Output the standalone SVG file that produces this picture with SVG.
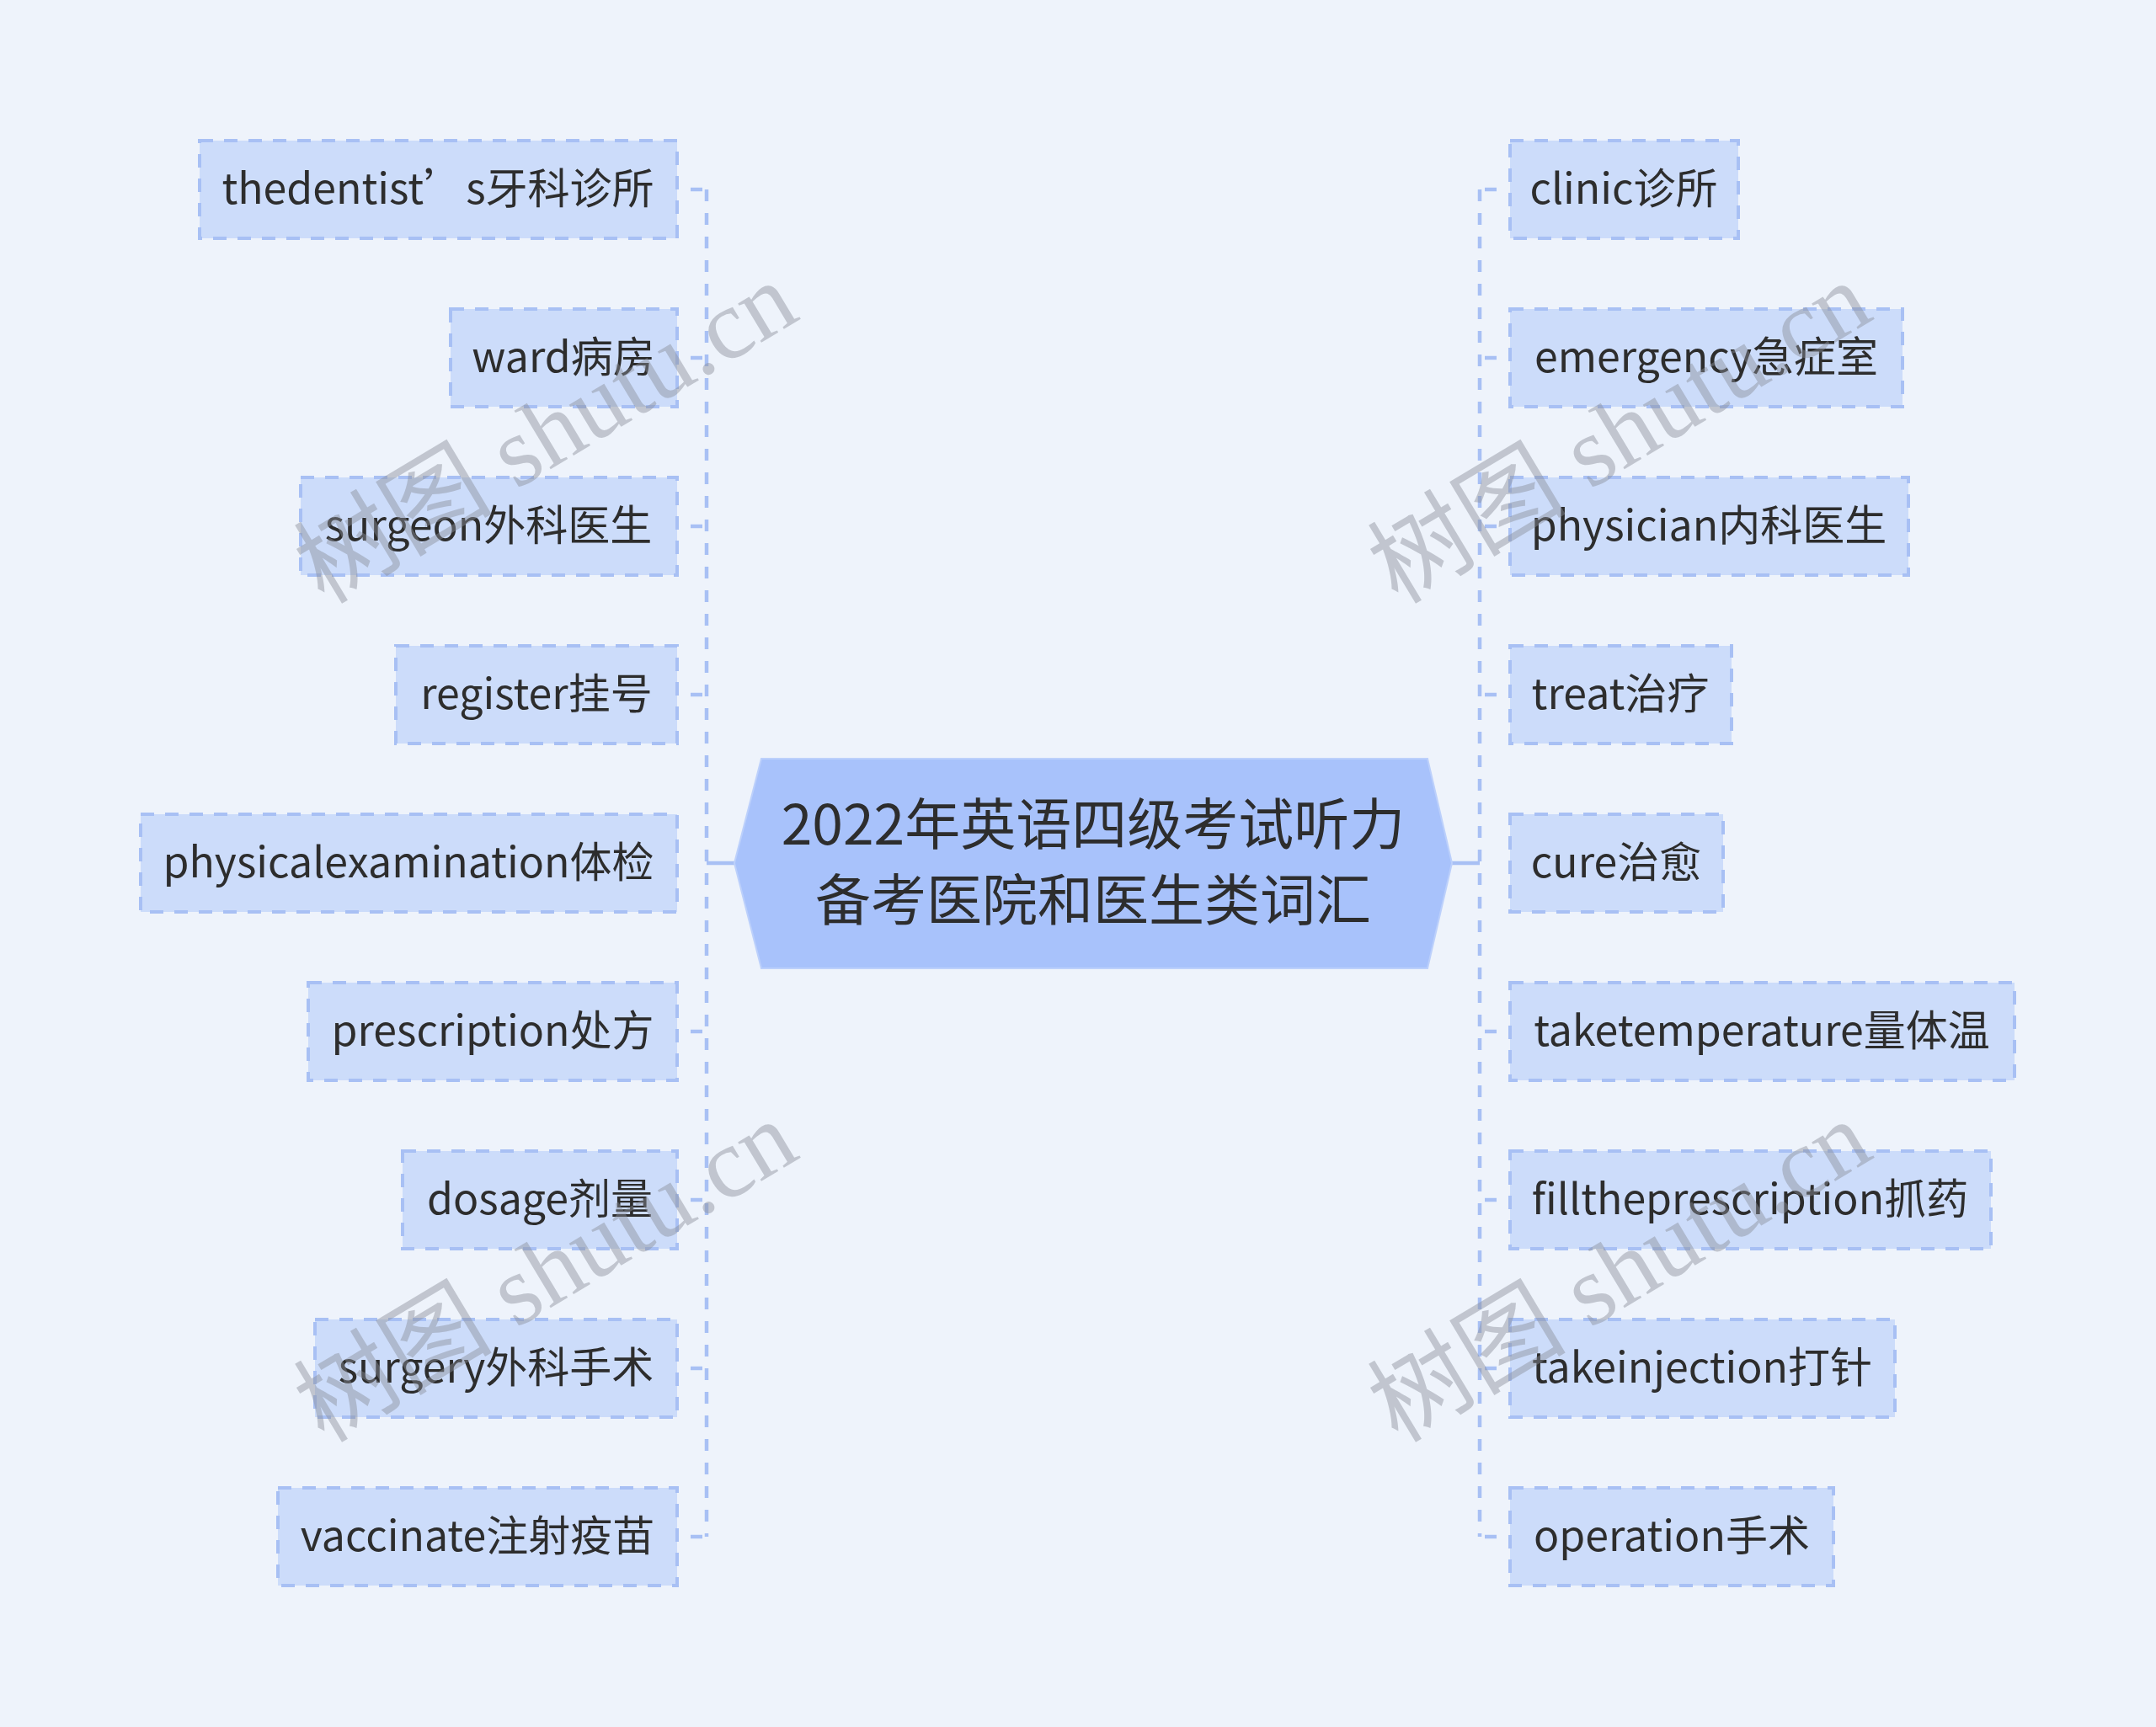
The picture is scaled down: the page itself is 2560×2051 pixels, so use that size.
<svg xmlns="http://www.w3.org/2000/svg" width="2560" height="2051" viewBox="0 0 2560 2051">
<style>
.bg{fill:#eef3fb}
.box{fill:#ccdcfa;stroke:#a8c0f4;stroke-width:4;stroke-dasharray:16 13}
.t{font-family:"Noto Sans CJK SC","Noto Sans",sans-serif;font-size:50px;fill:#2d2d2d;text-anchor:middle}
.ct{font-family:"Noto Sans CJK SC","Noto Sans",sans-serif;font-size:66px;fill:#2d2d2d;text-anchor:middle}
.solid{fill:none;stroke:#a8c0f4;stroke-width:4.5}
.dash{fill:none;stroke:#a8c0f4;stroke-width:4.5;stroke-dasharray:14 14}
.stub{fill:none;stroke:#a8c0f4;stroke-width:4.5;stroke-dasharray:14 14;stroke-dashoffset:14}
.wm{font-family:"Liberation Serif","Noto Sans CJK SC",serif;font-size:118px;fill:#8a8f99;fill-opacity:0.45;text-anchor:middle}
</style>
<rect class="bg" x="0" y="0" width="2560" height="2051"/>
<g id="connectors">
<path class="solid" d="M872 1025H839"/>
<path class="solid" d="M1724 1025H1757"/>
<path class="dash" d="M839 225V1825"/>
<path class="dash" d="M1757 225V1825"/>
<path class="stub" d="M806 225H839"/>
<path class="stub" d="M806 425H839"/>
<path class="stub" d="M806 625H839"/>
<path class="stub" d="M806 825H839"/>
<path class="stub" d="M806 1225H839"/>
<path class="stub" d="M806 1425H839"/>
<path class="stub" d="M806 1625H839"/>
<path class="stub" d="M806 1825H839"/>
<path class="stub" d="M1791 225H1757"/>
<path class="stub" d="M1791 425H1757"/>
<path class="stub" d="M1791 625H1757"/>
<path class="stub" d="M1791 825H1757"/>
<path class="stub" d="M1791 1225H1757"/>
<path class="stub" d="M1791 1425H1757"/>
<path class="stub" d="M1791 1625H1757"/>
<path class="stub" d="M1791 1825H1757"/>
</g>
<g id="center">
<polygon points="872,1025 904,901 1695,901 1724,1025 1695,1150 904,1150" fill="#a8c2fb" stroke="#bcd0fb" stroke-width="2"/>
<text class="ct" x="1298" y="1003">2022年英语四级考试听力</text>
<text class="ct" x="1298" y="1093">备考医院和医生类词汇</text>
</g>
<g id="l1"><rect class="box" x="237" y="167" width="567" height="116"/><text class="t" x="520" y="242">thedentist’s牙科诊所</text></g>
<g id="l2"><rect class="box" x="535" y="367" width="269" height="116"/><text class="t" x="669" y="442">ward病房</text></g>
<g id="l3"><rect class="box" x="357" y="567" width="447" height="116"/><text class="t" x="580" y="642">surgeon外科医生</text></g>
<g id="l4"><rect class="box" x="470" y="767" width="334" height="116"/><text class="t" x="637" y="842">register挂号</text></g>
<g id="l5"><rect class="box" x="167" y="967" width="637" height="116"/><text class="t" x="485" y="1042">physicalexamination体检</text></g>
<g id="l6"><rect class="box" x="366" y="1167" width="438" height="116"/><text class="t" x="585" y="1242">prescription处方</text></g>
<g id="l7"><rect class="box" x="478" y="1367" width="326" height="116"/><text class="t" x="641" y="1442">dosage剂量</text></g>
<g id="l8"><rect class="box" x="374" y="1567" width="430" height="116"/><text class="t" x="589" y="1642">surgery外科手术</text></g>
<g id="l9"><rect class="box" x="330" y="1767" width="474" height="116"/><text class="t" x="567" y="1842">vaccinate注射疫苗</text></g>
<g id="r1"><rect class="box" x="1793" y="167" width="271" height="116"/><text class="t" x="1928" y="242">clinic诊所</text></g>
<g id="r2"><rect class="box" x="1793" y="367" width="466" height="116"/><text class="t" x="2026" y="442">emergency急症室</text></g>
<g id="r3"><rect class="box" x="1793" y="567" width="473" height="116"/><text class="t" x="2029" y="642">physician内科医生</text></g>
<g id="r4"><rect class="box" x="1793" y="767" width="263" height="116"/><text class="t" x="1924" y="842">treat治疗</text></g>
<g id="r5"><rect class="box" x="1793" y="967" width="253" height="116"/><text class="t" x="1919" y="1042">cure治愈</text></g>
<g id="r6"><rect class="box" x="1793" y="1167" width="599" height="116"/><text class="t" x="2092" y="1242">taketemperature量体温</text></g>
<g id="r7"><rect class="box" x="1793" y="1367" width="571" height="116"/><text class="t" x="2078" y="1442">filltheprescription抓药</text></g>
<g id="r8"><rect class="box" x="1793" y="1567" width="457" height="116"/><text class="t" x="2021" y="1642">takeinjection打针</text></g>
<g id="r9"><rect class="box" x="1793" y="1767" width="384" height="116"/><text class="t" x="1985" y="1842">operation手术</text></g>
<g id="watermarks">
<text class="wm" transform="translate(648 514) rotate(-31)" y="40">树图 shutu.cn</text>
<text class="wm" transform="translate(648 1510) rotate(-31)" y="40">树图 shutu.cn</text>
<text class="wm" transform="translate(1923 514) rotate(-31)" y="40">树图 shutu.cn</text>
<text class="wm" transform="translate(1923 1510) rotate(-31)" y="40">树图 shutu.cn</text>
</g>
</svg>
